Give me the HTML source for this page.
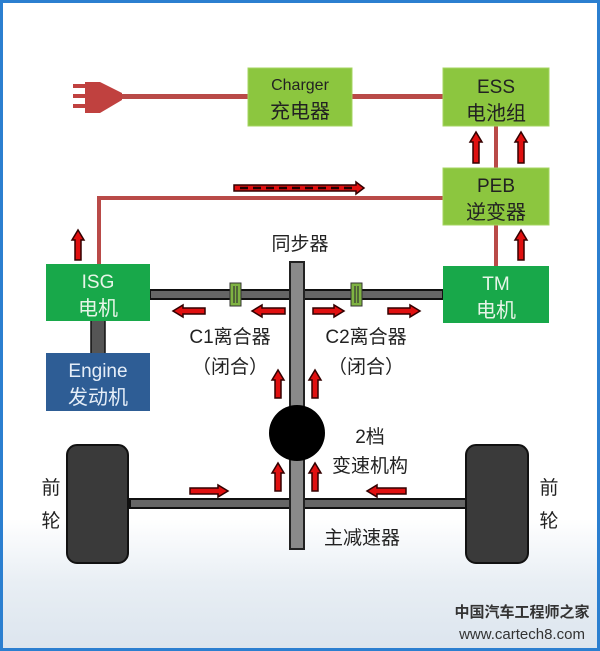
<!DOCTYPE html>
<html><head><meta charset="utf-8"><style>
html,body{margin:0;padding:0;background:#fff}
svg{display:block}
text{font-family:"Liberation Sans","Noto Sans CJK SC",sans-serif}
</style></head><body>
<svg width="600" height="651" viewBox="0 0 600 651" xmlns="http://www.w3.org/2000/svg">
<defs>
<linearGradient id="bg" x1="0" y1="0" x2="0" y2="1">
<stop offset="0" stop-color="#ffffff"/><stop offset="0.8" stop-color="#ffffff"/><stop offset="0.9" stop-color="#e8eef4"/><stop offset="1" stop-color="#dce5ee"/>
</linearGradient>
</defs>
<rect x="0" y="0" width="600" height="651" fill="#2b7fd0"/>
<rect x="3" y="3" width="594" height="645" fill="url(#bg)"/>

<!-- wires -->
<g fill="#b94a48">
<rect x="118" y="94" width="130" height="5"/>
<rect x="352" y="94" width="91" height="5"/>
<rect x="494" y="126" width="4" height="42"/>
<rect x="494" y="225" width="4" height="41"/>
<rect x="97" y="196" width="346" height="4"/>
<rect x="97" y="196" width="4" height="68"/>
</g>
<!-- plug -->
<g fill="#c0413f">
<rect x="73" y="84" width="14" height="4"/>
<rect x="73" y="94" width="14" height="4"/>
<rect x="73" y="104" width="14" height="4"/>
<path d="M85,82 L100,82 L122,93 L122,100 L100,113 L85,113 Z"/>
</g>

<!-- boxes -->
<rect x="248" y="68" width="104" height="58" fill="#8cc63f" stroke="#a5d460"/>
<text x="300" y="90" font-size="16" text-anchor="middle" fill="#222">Charger</text>
<text x="300" y="118" font-size="20" text-anchor="middle" fill="#222">充电器</text>
<rect x="443" y="68" width="106" height="58" fill="#8cc63f" stroke="#a5d460"/>
<text x="496" y="93" font-size="19" text-anchor="middle" fill="#222">ESS</text>
<text x="496" y="120" font-size="20" text-anchor="middle" fill="#222">电池组</text>
<rect x="443" y="168" width="106" height="57" fill="#8cc63f" stroke="#a5d460"/>
<text x="496" y="192" font-size="19" text-anchor="middle" fill="#222">PEB</text>
<text x="496" y="219" font-size="20" text-anchor="middle" fill="#222">逆变器</text>

<!-- shafts -->
<rect x="91" y="318" width="14" height="37" fill="#555" stroke="#111" stroke-width="1.5"/>
<rect x="150" y="290" width="293" height="9" fill="#666" stroke="#111" stroke-width="2"/>
<rect x="130" y="499" width="336" height="9" fill="#666" stroke="#111" stroke-width="2"/>
<rect x="290" y="262" width="14" height="287" fill="#8a8a8a" stroke="#222" stroke-width="2"/>
<circle cx="297" cy="433" r="28" fill="#000"/>
<!-- clutches -->
<g stroke="#333" stroke-width="1">
<rect x="230" y="283" width="11" height="23" fill="#7fb342"/>
<rect x="351" y="283" width="11" height="23" fill="#7fb342"/>
</g>
<g stroke="#333" stroke-width="1.2">
<line x1="234" y1="286" x2="234" y2="303"/><line x1="237" y1="286" x2="237" y2="303"/>
<line x1="355" y1="286" x2="355" y2="303"/><line x1="358" y1="286" x2="358" y2="303"/>
</g>

<rect x="46" y="264" width="104" height="57" fill="#18a84a"/>
<text x="98" y="288" font-size="19" text-anchor="middle" fill="#e8f5e8">ISG</text>
<text x="98" y="315" font-size="20" text-anchor="middle" fill="#e8f5e8">电机</text>
<rect x="443" y="266" width="106" height="57" fill="#18a84a"/>
<text x="496" y="290" font-size="19" text-anchor="middle" fill="#e8f5e8">TM</text>
<text x="496" y="317" font-size="20" text-anchor="middle" fill="#e8f5e8">电机</text>
<rect x="46" y="353" width="104" height="58" fill="#2e5d95"/>
<text x="98" y="377" font-size="19" text-anchor="middle" fill="#e6eef8">Engine</text>
<text x="98" y="404" font-size="20" text-anchor="middle" fill="#e6eef8">发动机</text>

<!-- wheels -->
<rect x="67" y="445" width="61" height="118" rx="10" fill="#3a3a3a" stroke="#111" stroke-width="2"/>
<rect x="466" y="445" width="62" height="118" rx="10" fill="#3a3a3a" stroke="#111" stroke-width="2"/>

<!-- labels -->
<g fill="#222" font-size="19">
<text x="300" y="250" text-anchor="middle">同步器</text>
<text x="230" y="343" text-anchor="middle">C1离合器</text>
<text x="230" y="373" text-anchor="middle">（闭合）</text>
<text x="366" y="343" text-anchor="middle">C2离合器</text>
<text x="366" y="373" text-anchor="middle">（闭合）</text>
<text x="370" y="443" text-anchor="middle">2档</text>
<text x="370" y="472" text-anchor="middle">变速机构</text>
<text x="362" y="544" text-anchor="middle">主减速器</text>
<text x="51" y="494" text-anchor="middle">前</text>
<text x="51" y="527" text-anchor="middle">轮</text>
<text x="549" y="494" text-anchor="middle">前</text>
<text x="549" y="527" text-anchor="middle">轮</text>
</g>
<text x="522" y="617" font-size="15" font-weight="bold" text-anchor="middle" fill="#333" font-family="'Noto Serif CJK SC',serif">中国汽车工程师之家</text>
<text x="522" y="639" font-size="15" text-anchor="middle" fill="#333" font-family="'Liberation Mono',monospace">www.cartech8.com</text>

<!-- red arrows -->
<g fill="#e01010" stroke="#300" stroke-width="1.5">
<path d="M473,163 L473,142 L470,142 L476,132 L482,142 L479,142 L479,163 Z"/>
<path d="M518,163 L518,142 L515,142 L521,132 L527,142 L524,142 L524,163 Z"/>
<path d="M75,260 L75,240 L72,240 L78,230 L84,240 L81,240 L81,260 Z"/>
<path d="M518,260 L518,240 L515,240 L521,230 L527,240 L524,240 L524,260 Z"/>
<path d="M275,398 L275,380 L272,380 L278,370 L284,380 L281,380 L281,398 Z"/>
<path d="M312,398 L312,380 L309,380 L315,370 L321,380 L318,380 L318,398 Z"/>
<path d="M275,491 L275,473 L272,473 L278,463 L284,473 L281,473 L281,491 Z"/>
<path d="M312,491 L312,473 L309,473 L315,463 L321,473 L318,473 L318,491 Z"/>
<path d="M234,185 L356,185 L356,182 L364,188 L356,194 L356,191 L234,191 Z"/>
<path d="M205,308 L183,308 L183,305 L173,311 L183,317 L183,314 L205,314 Z"/>
<path d="M285,308 L262,308 L262,305 L252,311 L262,317 L262,314 L285,314 Z"/>
<path d="M313,308 L334,308 L334,305 L344,311 L334,317 L334,314 L313,314 Z"/>
<path d="M388,308 L410,308 L410,305 L420,311 L410,317 L410,314 L388,314 Z"/>
<path d="M190,488 L218,488 L218,485 L228,491 L218,497 L218,494 L190,494 Z"/>
<path d="M406,488 L377,488 L377,485 L367,491 L377,497 L377,494 L406,494 Z"/>
</g>
<line x1="240" y1="188" x2="352" y2="188" stroke="#200" stroke-width="2.5" stroke-dasharray="8,5"/>
</svg>
</body></html>
